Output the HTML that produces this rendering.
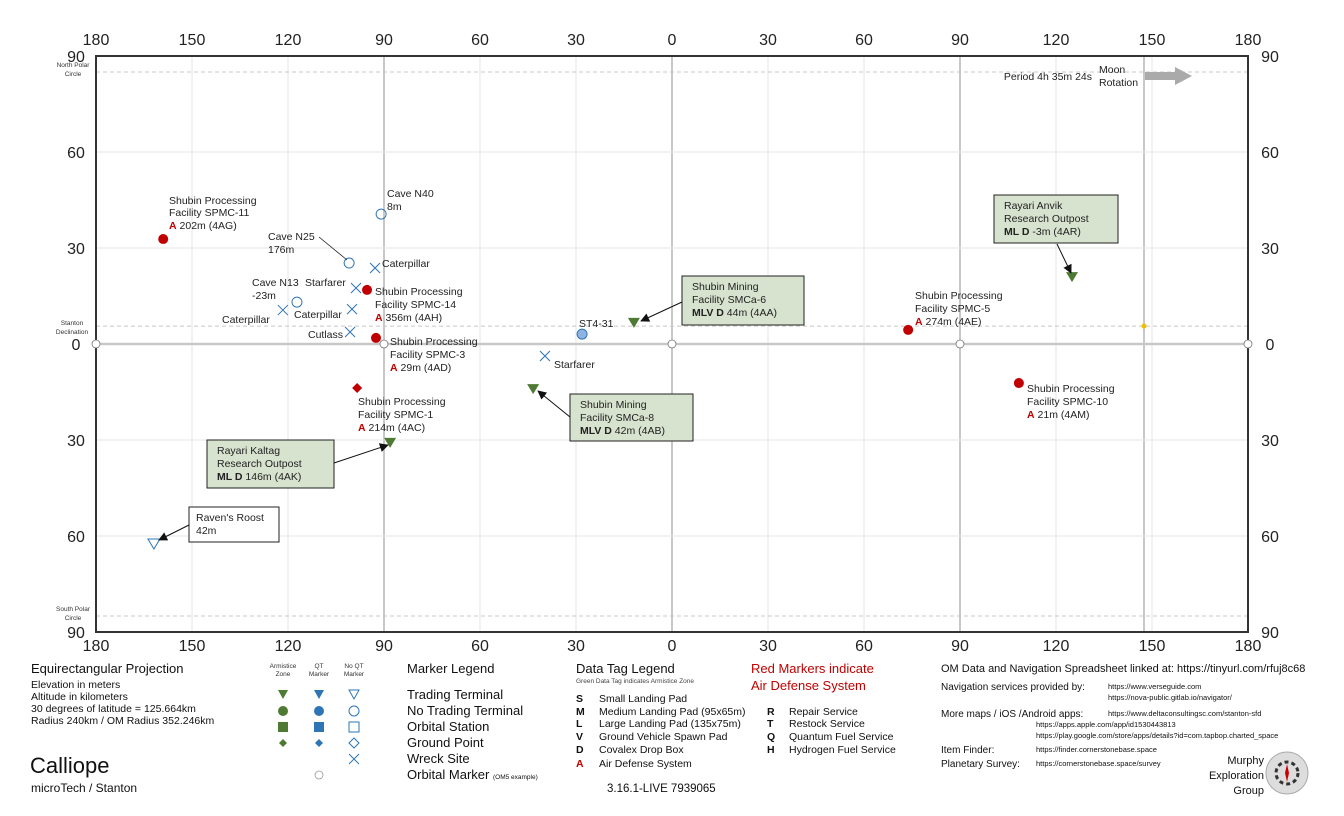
<!DOCTYPE html>
<html><head><meta charset="utf-8"><style>
body{margin:0;background:#fff;}
svg{display:block;font-family:"Liberation Sans",sans-serif;}
</style></head><body>
<svg id="chart" width="1344" height="816" viewBox="0 0 1344 816">
<defs>
<marker id="ah" viewBox="0 0 10 10" refX="9" refY="5" markerWidth="9" markerHeight="9" orient="auto"><path d="M0,0 L10,5 L0,10 z" fill="#111"/></marker>
</defs>
<g id="grid"></g>
<g id="marks"></g>
<g id="ann" font-size="10.5" fill="#222">
  <text x="169" y="204">Shubin Processing</text><text x="169" y="216">Facility SPMC-11</text>
  <text x="169" y="229"><tspan fill="#c00000" font-weight="bold">A</tspan> 202m (4AG)</text>
  <text x="387" y="197">Cave N40</text><text x="387" y="210">8m</text>
  <text x="268" y="240">Cave N25</text><text x="268" y="253">176m</text>
  <line x1="319" y1="237" x2="347" y2="260" stroke="#222" stroke-width="0.8"/>
  <text x="382" y="267">Caterpillar</text>
  <text x="252" y="286">Cave N13</text><text x="252" y="299">-23m</text>
  <text x="305" y="286">Starfarer</text>
  <text x="375" y="295">Shubin Processing</text><text x="375" y="308">Facility SPMC-14</text>
  <text x="375" y="321"><tspan fill="#c00000" font-weight="bold">A</tspan> 356m (4AH)</text>
  <text x="222" y="323">Caterpillar</text>
  <text x="294" y="318">Caterpillar</text>
  <text x="308" y="338">Cutlass</text>
  <text x="390" y="345">Shubin Processing</text><text x="390" y="358">Facility SPMC-3</text>
  <text x="390" y="371"><tspan fill="#c00000" font-weight="bold">A</tspan> 29m (4AD)</text>
  <text x="358" y="405">Shubin Processing</text><text x="358" y="418">Facility SPMC-1</text>
  <text x="358" y="431"><tspan fill="#c00000" font-weight="bold">A</tspan> 214m (4AC)</text>
  <text x="579" y="327">ST4-31</text>
  <text x="554" y="368">Starfarer</text>
  <text x="915" y="299">Shubin Processing</text><text x="915" y="312">Facility SPMC-5</text>
  <text x="915" y="325"><tspan fill="#c00000" font-weight="bold">A</tspan> 274m (4AE)</text>
  <text x="1027" y="392">Shubin Processing</text><text x="1027" y="405">Facility SPMC-10</text>
  <text x="1027" y="418"><tspan fill="#c00000" font-weight="bold">A</tspan> 21m (4AM)</text>
  <rect x="207" y="440" width="127" height="48" fill="#d7e2cf" stroke="#222"/>
  <text x="217" y="454">Rayari Kaltag</text><text x="217" y="467">Research Outpost</text>
  <text x="217" y="480"><tspan font-weight="bold">ML D</tspan> 146m (4AK)</text>
  <line x1="334" y1="463" x2="388" y2="445" stroke="#111" marker-end="url(#ah)"/>
  <rect x="570" y="394" width="123" height="47" fill="#d7e2cf" stroke="#222"/>
  <text x="580" y="408">Shubin Mining</text><text x="580" y="421">Facility SMCa-8</text>
  <text x="580" y="434"><tspan font-weight="bold">MLV D</tspan> 42m (4AB)</text>
  <line x1="570" y1="417" x2="538" y2="391" stroke="#111" marker-end="url(#ah)"/>
  <rect x="682" y="276" width="122" height="49" fill="#d7e2cf" stroke="#222"/>
  <text x="692" y="290">Shubin Mining</text><text x="692" y="303">Facility SMCa-6</text>
  <text x="692" y="316"><tspan font-weight="bold">MLV D</tspan> 44m (4AA)</text>
  <line x1="682" y1="302" x2="641" y2="321" stroke="#111" marker-end="url(#ah)"/>
  <rect x="994" y="195" width="124" height="48" fill="#d7e2cf" stroke="#222"/>
  <text x="1004" y="209">Rayari Anvik</text><text x="1004" y="222">Research Outpost</text>
  <text x="1004" y="235"><tspan font-weight="bold">ML D</tspan> -3m (4AR)</text>
  <line x1="1057" y1="244" x2="1071" y2="273" stroke="#111" marker-end="url(#ah)"/>
  <rect x="189" y="507" width="90" height="35" fill="#fff" stroke="#222"/>
  <text x="196" y="521">Raven's Roost</text><text x="196" y="534">42m</text>
  <line x1="189" y1="525" x2="159" y2="540" stroke="#111" marker-end="url(#ah)"/>
  <text x="1092" y="80" text-anchor="end">Period 4h 35m 24s</text>
  <text x="1099" y="73">Moon</text><text x="1099" y="86">Rotation</text>
  <path d="M1145,72 L1175,72 L1175,67 L1192,76 L1175,85 L1175,80 L1145,80 Z" fill="#aaa"/>
  <g font-size="6.5" fill="#333" text-anchor="middle">
    <text x="73" y="67">North Polar</text><text x="73" y="76">Circle</text>
    <text x="72" y="325">Stanton</text><text x="72" y="334">Declination</text>
    <text x="73" y="611">South Polar</text><text x="73" y="620">Circle</text>
  </g>
</g>
<g fill="#111">
  <text x="31" y="673" font-size="13">Equirectangular  Projection</text>
  <text x="31" y="688" font-size="10.5">Elevation in meters</text>
  <text x="31" y="700" font-size="10.5">Altitude in kilometers</text>
  <text x="31" y="712" font-size="10.5">30 degrees of latitude = 125.664km</text>
  <text x="31" y="724" font-size="10.5">Radius 240km / OM Radius 352.246km</text>
  <text x="30" y="773" font-size="22">Calliope</text>
  <text x="31" y="792" font-size="12">microTech / Stanton</text>
</g>
<g>
  <g font-size="6.5" fill="#333" text-anchor="middle">
    <text x="283" y="668">Armistice</text><text x="283" y="676">Zone</text>
    <text x="319" y="668">QT</text><text x="319" y="676">Marker</text>
    <text x="354" y="668">No QT</text><text x="354" y="676">Marker</text>
  </g>
  <path d="M278,690 L288,690 L283,699 Z" fill="#4e7a34"/>
  <path d="M314,690 L324,690 L319,699 Z" fill="#2e75b6"/>
  <path d="M349,690 L359,690 L354,699 Z" fill="none" stroke="#2e75b6"/>
  <circle cx="283" cy="711" r="5" fill="#4e7a34"/><circle cx="319" cy="711" r="5" fill="#2e75b6"/><circle cx="354" cy="711" r="5" fill="none" stroke="#2e75b6"/>
  <rect x="278" y="722" width="10" height="10" fill="#4e7a34"/><rect x="314" y="722" width="10" height="10" fill="#2e75b6"/><rect x="349" y="722" width="10" height="10" fill="none" stroke="#2e75b6"/>
  <path d="M283,739 L287,743 L283,747 L279,743Z" fill="#4e7a34"/><path d="M319,739 L323,743 L319,747 L315,743Z" fill="#2e75b6"/><path d="M354,738 L359,743 L354,748 L349,743Z" fill="none" stroke="#2e75b6"/>
  <path d="M349,754 L359,764 M359,754 L349,764" stroke="#2e75b6"/>
  <circle cx="319" cy="775" r="4" fill="none" stroke="#999" stroke-width="0.8"/>
  <g font-size="13" fill="#111">
    <text x="407" y="673">Marker Legend</text>
    <text x="407" y="699">Trading Terminal</text>
    <text x="407" y="715">No Trading Terminal</text>
    <text x="407" y="731">Orbital Station</text>
    <text x="407" y="747">Ground Point</text>
    <text x="407" y="763">Wreck Site</text>
    <text x="407" y="779">Orbital Marker <tspan font-size="6.5">(OM5 example)</tspan></text>
  </g>
</g>
<g fill="#111">
  <text x="576" y="673" font-size="13">Data Tag Legend</text>
  <text x="576" y="683" font-size="6.5" fill="#444">Green Data Tag indicates Armistice Zone</text>
  <g font-size="10.5" font-weight="bold">
    <text x="576" y="702">S</text><text x="576" y="715">M</text><text x="576" y="727">L</text><text x="576" y="740">V</text><text x="576" y="753">D</text><text x="576" y="767" fill="#c00000">A</text>
    <text x="767" y="715">R</text><text x="767" y="727">T</text><text x="767" y="740">Q</text><text x="767" y="753">H</text>
  </g>
  <g font-size="10.5">
    <text x="599" y="702">Small Landing Pad</text><text x="599" y="715">Medium Landing Pad (95x65m)</text>
    <text x="599" y="727">Large Landing Pad (135x75m)</text><text x="599" y="740">Ground Vehicle Spawn Pad</text>
    <text x="599" y="753">Covalex Drop Box</text><text x="599" y="767">Air Defense System</text>
    <text x="789" y="715">Repair Service</text><text x="789" y="727">Restock Service</text>
    <text x="789" y="740">Quantum Fuel Service</text><text x="789" y="753">Hydrogen Fuel Service</text>
  </g>
  <text x="607" y="792" font-size="11.5">3.16.1-LIVE 7939065</text>
  <text x="751" y="673" font-size="13" fill="#c00000">Red Markers indicate</text>
  <text x="751" y="690" font-size="13" fill="#c00000">Air Defense System</text>
</g>
<g fill="#111">
  <text x="941" y="672" font-size="11">OM Data and Navigation Spreadsheet linked at: https://tinyurl.com/rfuj8c68</text>
  <text x="941" y="690" font-size="10">Navigation services provided by:</text>
  <g font-size="7.5">
    <text x="1108" y="689">https://www.verseguide.com</text>
    <text x="1108" y="700">https://nova-public.gitlab.io/navigator/</text>
    <text x="1108" y="716">https://www.deltaconsultingsc.com/stanton-sfd</text>
    <text x="1036" y="727">https://apps.apple.com/app/id1530443813</text>
    <text x="1036" y="738">https://play.google.com/store/apps/details?id=com.tapbop.charted_space</text>
    <text x="1036" y="752">https://finder.cornerstonebase.space</text>
    <text x="1036" y="766">https://cornerstonebase.space/survey</text>
  </g>
  <text x="941" y="717" font-size="10">More maps / iOS /Android apps:</text>
  <text x="941" y="753" font-size="10">Item Finder:</text>
  <text x="941" y="767" font-size="10">Planetary Survey:</text>
  <g font-size="11" text-anchor="end"><text x="1264" y="764">Murphy</text><text x="1264" y="779">Exploration</text><text x="1264" y="794">Group</text></g>
  <g>
    <circle cx="1287" cy="773" r="21" fill="#ddd" stroke="#aaa"/>
    <circle cx="1287" cy="773" r="11" fill="none" stroke="#333" stroke-width="3" stroke-dasharray="4 3"/>
    <path d="M1287,764 L1289,773 L1287,782 L1285,773Z" fill="#c00"/>
  </g>
</g>
<script>
const latTicks=[90,60,30,0,-30,-60,-90];
const lonTicks=[-180,-150,-120,-90,-60,-30,0,30,60,90,120,150,180];
const tickLabels=["180","150","120","90","60","30","0","30","60","90","120","150","180"];
const latLabels=["90","60","30","0","30","60","90"];
const pcLon=[-159,-95.3,-92.5,73.8,108.4];
const pcLat=[32.8,16.9,1.9,4.4,-12.2];
const gpLon=[-98.4]; const gpLat=[-13.75];
const ttLon=[-88.1,-43.4,-11.9,125]; const ttLat=[-30.9,-14.1,6.6,20.9];
const caveLon=[-90.9,-100.9,-117.2]; const caveLat=[40.6,25.3,13.1];
const wreckLon=[-92.8,-98.75,-100,-121.6,-100.6,-39.7];
const wreckLat=[23.75,17.5,10.9,10.6,3.75,-3.75];
const openTTLon=[-161.9]; const openTTLat=[-62.5];
const stationLon=[-28.1]; const stationLat=[3.1];
const omLon=[-180,-90,0,90,180];
const refLat=[85,5.6,-85];
const NS="http://www.w3.org/2000/svg";
const X0=96,X1=1248,Y0=56,Y1=632;
function xs(l){return X0+(l+180)/360*(X1-X0);}
function ys(l){return Y0+(90-l)/180*(Y1-Y0);}
function mk(tag,attrs,parent){const e=document.createElementNS(NS,tag);for(const k in attrs)e.setAttribute(k,attrs[k]);parent.appendChild(e);return e;}
const grid=document.getElementById('grid'),marks=document.getElementById('marks');
lonTicks.forEach((l,i)=>{
  const major=(l===-90||l===0||l===90);
  const ln=mk('line',{x1:xs(l),x2:xs(l),y1:Y0,y2:Y1,stroke:major?'#c8c8c8':'#e4e4e4','stroke-width':major?2:1},grid);
  
  
  [45,651].forEach(y=>{const t=mk('text',{x:xs(l),y:y,'text-anchor':'middle','font-size':16,fill:'#222'},grid);t.textContent=tickLabels[i];
    
    });
});
const rl=mk('line',{x1:xs(147.5),x2:xs(147.5),y1:Y0,y2:Y1,stroke:'#c8c8c8','stroke-width':2},grid);


latTicks.forEach((l,i)=>{
  const eq=l===0;
  const ln=mk('line',{x1:X0,x2:X1,y1:ys(l),y2:ys(l),stroke:eq?'#c8c8c8':'#e4e4e4','stroke-width':eq?2.5:1},grid);
  
  
  [[76,'middle'],[1270,'middle']].forEach(([x,a])=>{const t=mk('text',{x:x,y:ys(l)+6,'text-anchor':a,'font-size':16,fill:'#222'},grid);t.textContent=latLabels[i];
    
    });
});
refLat.forEach(l=>{const ln=mk('line',{x1:X0,x2:X1,y1:ys(l),y2:ys(l),stroke:'#c8c8c8','stroke-dasharray':'4 3'},grid);
  
  });
const fr=mk('rect',{x:X0,y:Y0,width:X1-X0,height:Y1-Y0,fill:'none',stroke:'#333','stroke-width':2},grid);


omLon.forEach(l=>{const c=mk('circle',{cx:xs(l),cy:ys(0),r:4,fill:'#fff',stroke:'#777','stroke-width':0.8},marks);
  
  });
pcLon.forEach((l,i)=>{const c=mk('circle',{cx:xs(l),cy:ys(pcLat[i]),r:5,fill:'#c00000'},marks);
  
  });
gpLon.forEach((l,i)=>{const x=xs(l),y=ys(gpLat[i]);const p=mk('path',{d:`M${x},${y-5}L${x+5},${y}L${x},${y+5}L${x-5},${y}Z`,fill:'#c00000'},marks);
  
  });
ttLon.forEach((l,i)=>{const x=xs(l),y=ys(ttLat[i]);const p=mk('path',{d:`M${x-6},${y-5}L${x+6},${y-5}L${x},${y+5}Z`,fill:'#4e7a34'},marks);
  
  });
openTTLon.forEach((l,i)=>{const x=xs(l),y=ys(openTTLat[i]);const p=mk('path',{d:`M${x-6},${y-5}L${x+6},${y-5}L${x},${y+5}Z`,fill:'none',stroke:'#2e75b6'},marks);
  
  });
caveLon.forEach((l,i)=>{const c=mk('circle',{cx:xs(l),cy:ys(caveLat[i]),r:5,fill:'none',stroke:'#2e75b6'},marks);
  
  });
wreckLon.forEach((l,i)=>{const x=xs(l),y=ys(wreckLat[i]);const p=mk('path',{d:`M${x-5},${y-5}L${x+5},${y+5}M${x+5},${y-5}L${x-5},${y+5}`,stroke:'#2e75b6',fill:'none'},marks);
  
  });
stationLon.forEach((l,i)=>{const c=mk('circle',{cx:xs(l),cy:ys(stationLat[i]),r:5,fill:'#8db4e2',stroke:'#2e75b6'},marks);
  
  });
const yd=mk('circle',{cx:xs(147.5),cy:ys(5.6),r:2.5,fill:'#f0c000'},marks);


</script>
</svg>
</body></html>
